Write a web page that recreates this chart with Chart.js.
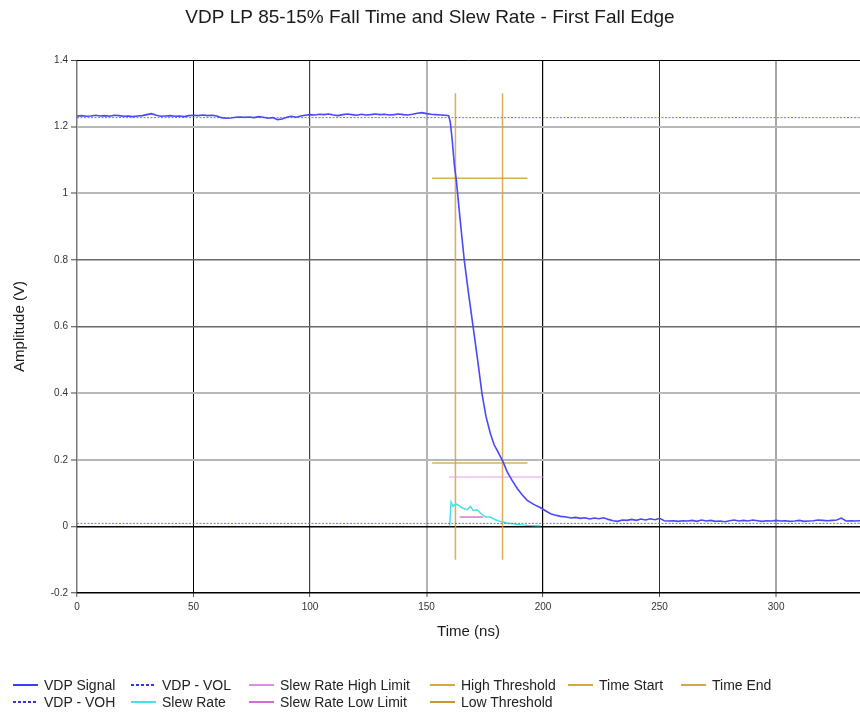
<!DOCTYPE html>
<html>
<head>
<meta charset="utf-8">
<title>VDP LP 85-15% Fall Time and Slew Rate</title>
<script src="https://cdn.jsdelivr.net/npm/chart.js@4.4.0/dist/chart.umd.min.js"></script>
<style>
  html, body { margin: 0; padding: 0; background: #fff; }
  #wrap { position: relative; width: 860px; height: 713px; overflow: hidden; }
  #chart { position: absolute; left: 0; top: 0; }
  #legend {
    position: absolute; left: 13px; top: 676px;
    display: grid;
    grid-template-rows: 17px 17px;
    grid-template-columns: 118px 118px 181px 138px 113px 150px;
    font: 14px "Liberation Sans", Arial, sans-serif; color: #222;
  }
  .item { display: flex; align-items: center; white-space: nowrap; }
  .swatch { width: 25px; height: 2px; margin-right: 6px; flex: none; }
</style>
</head>
<body>
<div id="wrap">
  <canvas id="chart" width="860" height="713"></canvas>
  <div id="legend"></div>
</div>
<script>
// Sampled VDP signal: time (ns) and amplitude (V)
const signalTime = [
  0,2,4,6,8,10,12,14,16,18,20,22,24,26,28,30,32,34,36,38,
  40,42,44,46,48,50,52,54,56,58,60,62,64,66,68,70,72,74,76,78,
  80,82,84,86,88,90,92,94,96,98,100,102,104,106,108,110,112,114,116,118,
  120,122,124,126,128,130,132,134,136,138,140,142,144,146,148,150,152,154,156,158,
  159.5,160.2,161,162,162.8,164,165,166.2,168,170,172,173.8,175.5,177.4,179,180.3,
  182.9,184.5,186.7,189,191,193.2,196,198.9,201,203.2,205,207.5,
  210,212,214,216,218,220,222,224,226,228,230,232,234,236,238,240,242,244,246,248,
  250,252,254,256,258,260,262,264,266,268,270,272,274,276,278,280,282,284,286,288,
  290,292,294,296,298,300,302,304,306,308,310,312,314,316,318,320,322,324,326,328,
  330,332,334,336
];
const signalVolts = [
  1.232,1.233,1.231,1.232,1.234,1.232,1.233,1.231,1.234,1.233,
  1.231,1.232,1.230,1.232,1.233,1.236,1.239,1.234,1.231,1.232,
  1.233,1.231,1.232,1.230,1.233,1.234,1.233,1.235,1.233,1.234,
  1.232,1.227,1.225,1.226,1.228,1.229,1.228,1.229,1.227,1.230,
  1.228,1.225,1.227,1.221,1.223,1.228,1.231,1.228,1.232,1.234,
  1.236,1.235,1.237,1.236,1.238,1.235,1.233,1.236,1.238,1.236,
  1.234,1.237,1.235,1.236,1.238,1.236,1.237,1.235,1.236,1.238,
  1.236,1.235,1.237,1.240,1.242,1.239,1.237,1.236,1.235,1.234,
  1.233,1.213,1.160,1.080,1.038,0.950,0.880,0.798,0.700,0.598,0.495,0.398,0.330,0.278,0.245,0.228,
  0.193,0.165,0.138,0.113,0.095,0.078,0.066,0.056,0.047,0.038,0.034,0.030,
  0.028,0.025,0.027,0.024,0.026,0.022,0.025,0.023,0.026,0.021,0.017,0.015,0.019,0.018,0.021,0.018,0.022,0.019,0.023,0.020,
  0.024,0.017,0.016,0.017,0.015,0.017,0.016,0.018,0.015,0.019,0.016,0.018,0.015,0.016,0.014,0.017,0.019,0.016,0.018,0.016,
  0.019,0.017,0.015,0.017,0.016,0.018,0.016,0.017,0.015,0.016,0.018,0.015,0.016,0.017,0.019,0.018,0.017,0.018,0.019,0.025,
  0.016,0.017,0.016,0.017
];

// Slew rate trace along the falling edge
const slewTime  = [159.9,160.5,161.4,162.4,163.8,165.2,167.4,168.8,170.0,171.7,173.1,175.3,177.4,179.5,181.7,184.6,188.9,193.2,198.9];
const slewValue = [0,0.073,0.060,0.068,0.063,0.056,0.050,0.060,0.048,0.050,0.040,0.028,0.028,0.020,0.015,0.010,0.006,0.003,0.002];

// Reference levels and markers: [start, end] spans with their level
const vohSpan = [0, 336],          vohLevel = 1.227;
const volSpan = [0, 336],          volLevel = 0.009;
const slewHighSpan = [159.6, 200], slewHighLevel = 0.148;
const slewLowSpan = [164.2, 174.3], slewLowLevel = 0.028;
const thresholdSpan = [152.4, 193.3];
const highThreshold = 1.045, lowThreshold = 0.190;
const timeStart = 162.4, timeEnd = 182.6;
const markerSpan = [-0.1, 1.3];

// Axis ticks
const xTicks = [0, 50, 100, 150, 200, 250, 300];
const yTicks = [-0.2, 0, 0.2, 0.4, 0.6, 0.8, 1, 1.2, 1.4];

const zip = (xs, ys) => xs.map((x, i) => ({ x, y: ys[i] }));
const hSeg = (span, y) => span.map(x => ({ x, y }));
const vSeg = (x, span) => span.map(y => ({ x, y }));

const series = (label, data, color, extra) => Object.assign({
  label, data, borderColor: color, backgroundColor: color,
  borderWidth: 1.5, pointRadius: 0, fill: false, tension: 0
}, extra || {});

const gold = 'rgba(214,160,62,0.85)';
const levelBlue = 'rgba(90,90,255,0.85)';

const datasets = [
  series('VDP Signal', zip(signalTime, signalVolts), 'rgb(72,72,255)', { borderWidth: 1.6 }),
  series('VDP - VOH', hSeg(vohSpan, vohLevel), levelBlue, { borderWidth: 1, borderDash: [2, 1.5] }),
  series('VDP - VOL', hSeg(volSpan, volLevel), levelBlue, { borderWidth: 1, borderDash: [2, 1.5] }),
  series('Slew Rate', zip(slewTime, slewValue), 'rgb(70,226,232)'),
  series('Slew Rate High Limit', hSeg(slewHighSpan, slewHighLevel), 'rgba(226,150,226,0.6)'),
  series('Slew Rate Low Limit', hSeg(slewLowSpan, slewLowLevel), 'rgb(214,120,214)'),
  series('High Threshold', hSeg(thresholdSpan, highThreshold), gold),
  series('Low Threshold', hSeg(thresholdSpan, lowThreshold), gold),
  series('Time Start', vSeg(timeStart, markerSpan), gold),
  series('Time End', vSeg(timeEnd, markerSpan), gold)
];

// Legend swatch colours and grid cells [row, column]
const legendColors = ['rgb(60,60,255)', 'rgb(50,50,235)', 'rgb(50,50,235)', 'rgb(60,230,235)',
  'rgb(225,140,225)', 'rgb(210,110,210)', 'rgb(215,165,70)', 'rgb(200,150,55)', 'rgb(215,165,70)', 'rgb(210,165,80)'];
const legendCells = [[1,1],[2,1],[1,2],[2,2],[1,3],[2,3],[1,4],[2,4],[1,5],[1,6]];

// Grid line appearance per tick value
const yGrid = { '14': ['#000', 1], '12': ['#b8b8b8', 2], '10': ['#b8b8b8', 2], '8': ['#6a6a6a', 1.5],
  '6': ['#6a6a6a', 1.5], '4': ['#b8b8b8', 2], '2': ['#b8b8b8', 2], '0': ['#000', 1.5], '-2': ['#000', 1.5] };
const xGrid = { '0': ['#7a7a7a', 1.5], '50': ['#000', 1], '100': ['#444', 1.2], '150': ['#b4b4b4', 2],
  '200': ['#000', 1.2], '250': ['#333', 1], '300': ['#a8a8a8', 2] };
const yKey = v => String(Math.round(v * 10));
const xKey = v => String(Math.round(v));

const tickFont = { family: '"Liberation Sans Narrow", "Liberation Sans", Arial, sans-serif', size: 10 };
const axisTitleFont = { family: '"Liberation Sans", Arial, sans-serif', size: 15 };

const chart = new Chart(document.getElementById('chart'), {
  type: 'line',
  data: { datasets },
  options: {
    responsive: false,
    animation: false,
    layout: { padding: { left: 0, right: 0, top: 0, bottom: 70 } },
    plugins: {
      legend: { display: false },
      tooltip: { enabled: false },
      title: {
        display: true,
        text: 'VDP LP 85-15% Fall Time and Slew Rate - First Fall Edge',
        color: '#1a1a1a',
        font: { family: '"Liberation Sans", Arial, sans-serif', size: 19, weight: 'normal' },
        padding: { top: 6, bottom: 31.2 }
      }
    },
    scales: {
      x: {
        type: 'linear',
        min: 0, max: 336,
        afterBuildTicks: s => { s.ticks = xTicks.map(v => ({ value: v })); },
        afterFit: s => { s.height = 50; },
        ticks: { color: '#333', font: tickFont, padding: 4, maxRotation: 0, callback: v => String(v) },
        grid: {
          color: c => (xGrid[xKey(c.tick.value)] || ['#888'])[0],
          lineWidth: c => (xGrid[xKey(c.tick.value)] || [0, 1])[1],
          tickLength: 4, tickColor: '#555', tickWidth: 1
        },
        border: { display: false },
        title: {
          display: true, text: 'Time (ns)', color: '#1a1a1a',
          font: axisTitleFont,
          padding: { top: 0, bottom: 2 }
        }
      },
      y: {
        type: 'linear',
        min: -0.2, max: 1.4,
        afterBuildTicks: s => { s.ticks = yTicks.map(v => ({ value: v })); },
        afterFit: s => { s.width = 77; },
        ticks: { color: '#333', font: tickFont, padding: 3, callback: v => String(Number(v.toFixed(1))) },
        grid: {
          color: c => (yGrid[yKey(c.tick.value)] || ['#888'])[0],
          lineWidth: c => (yGrid[yKey(c.tick.value)] || [0, 1])[1],
          tickLength: 6, tickColor: '#444', tickWidth: 1
        },
        border: { display: false },
        title: {
          display: true, text: 'Amplitude (V)', color: '#1a1a1a',
          font: axisTitleFont,
          padding: { top: 11, bottom: 0 }
        }
      }
    }
  }
});

// Legend built from the chart's datasets
const legend = document.getElementById('legend');
chart.data.datasets.forEach((ds, i) => {
  const item = document.createElement('div');
  item.className = 'item';
  item.style.gridRow = legendCells[i][0];
  item.style.gridColumn = legendCells[i][1];
  const sw = document.createElement('span');
  sw.className = 'swatch';
  const col = legendColors[i];
  sw.style.background = ds.borderDash
    ? `repeating-linear-gradient(90deg, ${col} 0 3px, transparent 3px 5px)`
    : col;
  const txt = document.createElement('span');
  txt.textContent = ds.label;
  item.appendChild(sw);
  item.appendChild(txt);
  legend.appendChild(item);
});
</script>
</body>
</html>
